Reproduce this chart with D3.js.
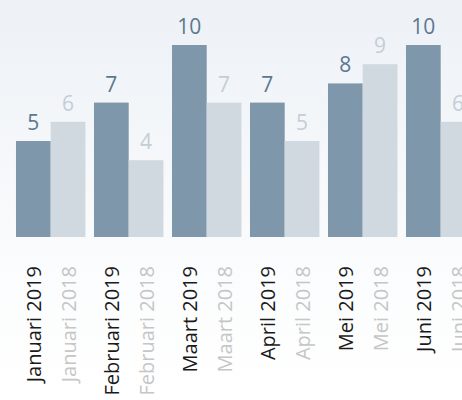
<!DOCTYPE html>
<html>
<head>
<meta charset="utf-8">
<script src="https://d3js.org/d3.v7.min.js"></script>
<style>
  html, body { margin: 0; padding: 0; background: #fff; }
  svg { display: block; font-family: "Open Sans", sans-serif; }
</style>
</head>
<body>
<svg id="chart" width="462" height="400"></svg>
<script>
const months = ["Januari", "Februari", "Maart", "April", "Mei", "Juni"];
const years = ["2019", "2018"];
const values2019 = [5, 7, 10, 7, 8, 10];
const values2018 = [6, 4, 7, 5, 9, 6];

const W = 462, H = 400;
const svg = d3.select("#chart");

// background gradient
const defs = svg.append("defs");
const grad = defs.append("linearGradient").attr("id", "bg")
  .attr("x1", 0).attr("y1", 0).attr("x2", 0).attr("y2", 1);
grad.append("stop").attr("offset", "0%").attr("stop-color", "#edf1f6");
grad.append("stop").attr("offset", "68%").attr("stop-color", "#fbfcfd");
grad.append("stop").attr("offset", "100%").attr("stop-color", "#ffffff");
svg.append("rect").attr("width", W).attr("height", H).attr("fill", "url(#bg)");

const rows = months.map((m, i) => ({ month: m, "2019": values2019[i], "2018": values2018[i] }));

const step = 78;
const x0 = d3.scaleBand().domain(months)
  .range([11.7, 11.7 + step * months.length])
  .paddingInner(0.11).paddingOuter(0.055);
const x1 = d3.scaleBand().domain(years).range([0, x0.bandwidth()]);
const y = d3.scaleLinear().domain([0, 10]).range([237, 45]);

const barColor = { "2019": "#7f97aa", "2018": "#d0d9e0" };
const valColor = { "2019": "#5b7891", "2018": "#c3ced8" };
const labColor = { "2019": "#1a1a1a", "2018": "#c6c6c6" };

const g = svg.selectAll("g.month").data(rows).join("g")
  .attr("class", "month")
  .attr("transform", d => `translate(${x0(d.month)},0)`);

const items = g.selectAll("g.item")
  .data(d => years.map(yr => ({ month: d.month, year: yr, value: d[yr] })))
  .join("g").attr("class", "item");

items.append("rect")
  .attr("x", d => x1(d.year))
  .attr("y", d => y(d.value))
  .attr("width", x1.bandwidth())
  .attr("height", d => y(0) - y(d.value))
  .attr("fill", d => barColor[d.year]);

items.append("text")
  .attr("x", d => x1(d.year) + x1.bandwidth() / 2)
  .attr("y", d => y(d.value) - 11)
  .attr("text-anchor", "middle")
  .attr("font-size", 21)
  .attr("fill", d => valColor[d.year])
  .text(d => d.value);

items.append("text")
  .attr("transform", d => `translate(${x1(d.year) + x1.bandwidth() / 2 + 7.5},266) rotate(-90)`)
  .attr("text-anchor", "end")
  .attr("font-size", 20)
  .attr("fill", d => labColor[d.year])
  .text(d => d.month + " " + d.year);
</script>
</body>
</html>
